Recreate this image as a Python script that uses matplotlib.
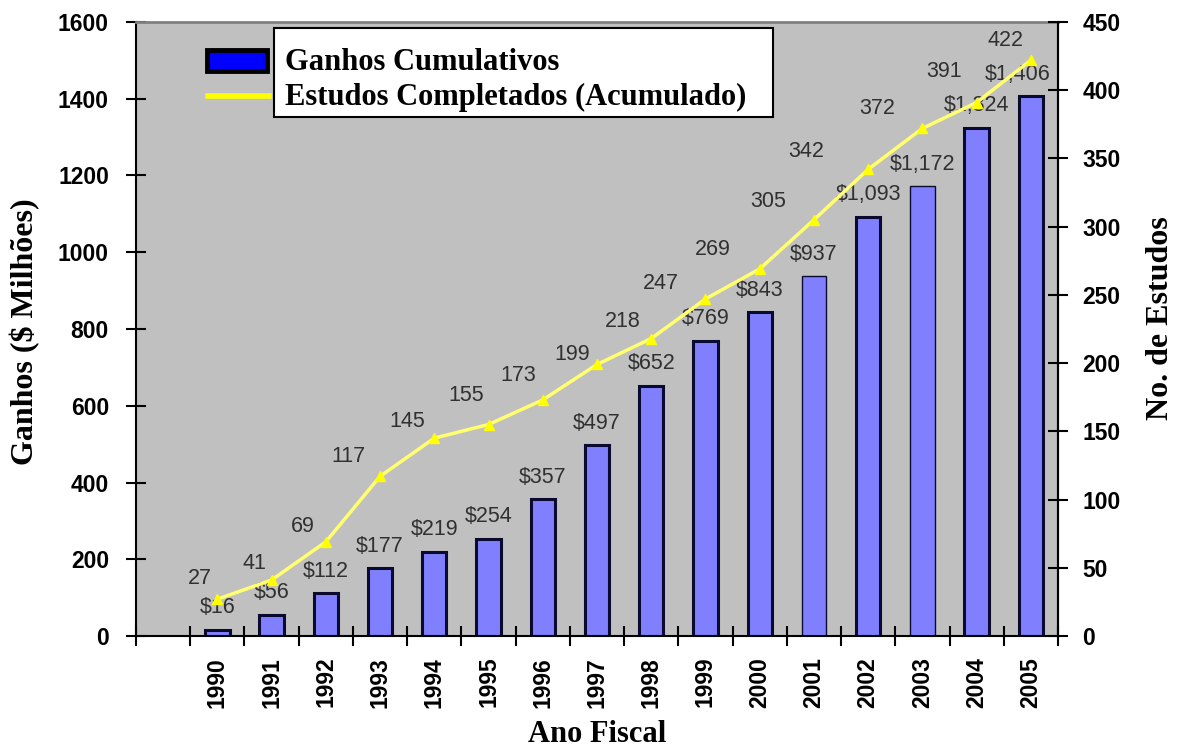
import numpy as np
import matplotlib
matplotlib.use("Agg")
import matplotlib.pyplot as plt
from matplotlib.patches import Rectangle
from matplotlib.lines import Line2D

plt.rcParams["font.family"] = ["Liberation Sans", "DejaVu Sans"]

# dados
anos = [1990, 1991, 1992, 1993, 1994, 1995, 1996, 1997,
        1998, 1999, 2000, 2001, 2002, 2003, 2004, 2005]
ganhos = [16, 56, 112, 177, 219, 254, 357, 497,
          652, 769, 843, 937, 1093, 1172, 1324, 1406]
estudos = [27, 41, 69, 117, 145, 155, 173, 199,
           218, 247, 269, 305, 342, 372, 391, 422]

# deslocamento dos rótulos da linha (pixels, x / y para cima)
desloc_estudos = [(-17, 21), (-17, 17), (-23, 15), (-32, 20), (-27, 17), (-22, 29),
                  (-25, 24), (-25, 10), (-28, 17), (-45, 15), (-47, 19), (-46, 18),
                  (-62, 18), (-45, 20), (-33, 31), (-25, 20)]

W, H = 1184, 753
fig = plt.figure(figsize=(W / 100, H / 100), dpi=100)
ax = fig.add_axes([136 / W, 117 / H, 922 / W, 614 / H])
ax.set_facecolor("#C0C0C0")

x = np.arange(1, len(anos) + 1)
pt = 0.72  # pixels -> pontos

# barras
lw_barras = [1.0 if a in (2001, 2003) else 2.2 for a in anos]
ax.bar(x, ganhos, width=0.45, color="#8080FF", edgecolor="#0a0a30",
       linewidth=lw_barras, zorder=2)
for xi, v in zip(x, ganhos):
    dx = -13 if v == ganhos[-1] else 0
    ax.annotate(f"${v:,}", (xi, v), xytext=(dx * pt, 22 * pt),
                textcoords="offset points", ha="center", va="center",
                fontsize=15.5, color="#303030", zorder=5)

ax.set_xlim(-0.5, len(anos) + 0.5)
ax.set_ylim(0, 1600)
ax.set_yticks(np.arange(0, 1601, 200))
ax.set_xticks(np.arange(-0.5, len(anos) + 1))
ax.set_xticklabels([])
ax.set_xticks(x, minor=True)
ax.set_xticklabels([str(a) for a in anos], minor=True, rotation=90,
                   fontsize=16.5, fontweight="bold")
ax.tick_params(axis="x", which="minor", length=0, pad=15)
ax.tick_params(axis="both", which="major", direction="inout", length=15,
               width=1.5, labelsize=16.5)
for lab in ax.get_yticklabels():
    lab.set_fontweight("bold")
ax.tick_params(axis="y", pad=12)

for s in ["left", "bottom", "right"]:
    ax.spines[s].set_linewidth(1.5)
    ax.spines[s].set_color("black")
ax.spines["top"].set_color("#808080")
ax.spines["top"].set_linewidth(2)

# eixo secundário: estudos
ax2 = ax.twinx()
ax2.plot(x, estudos, color="#FFFF70", linewidth=2.5, marker="^",
         markersize=7, markerfacecolor="#FFFF00", markeredgecolor="#FFFF00",
         zorder=4)
for xi, v, (dx, dy) in zip(x, estudos, desloc_estudos):
    ax2.annotate(str(v), (xi, v), xytext=(dx * pt, dy * pt),
                 textcoords="offset points", ha="center", va="center",
                 fontsize=15.5, color="#303030")
ax2.set_ylim(0, 450)
ax2.set_yticks(np.arange(0, 451, 50))
ax2.tick_params(axis="y", direction="inout", length=15, width=1.5,
                labelsize=16.5, pad=10)
for lab in ax2.get_yticklabels():
    lab.set_fontweight("bold")
for s in ["left", "bottom", "top"]:
    ax2.spines[s].set_visible(False)
ax2.spines["right"].set_linewidth(1.5)

# títulos dos eixos
serif = ["Liberation Serif", "DejaVu Serif"]
fig.text(25 / W, 1 - 332 / H, "Ganhos ($ Milhões)", rotation=90, ha="center",
         va="center", fontsize=23, fontweight="bold", family=serif)
fig.text(1160 / W, 1 - 318 / H, "No. de Estudos", rotation=90, ha="center",
         va="center", fontsize=23, fontweight="bold", family=serif)
fig.text(597 / W, 1 - 735 / H, "Ano Fiscal", ha="center", va="center",
         fontsize=22, fontweight="bold", family=serif)

# legenda
fig.add_artist(Rectangle((206.5 / W, 1 - 70.5 / H), 60 / W, 21 / H,
                         transform=fig.transFigure, facecolor="#0000FF",
                         edgecolor="black", linewidth=3.5))
fig.add_artist(Line2D([208 / W, 269 / W], [1 - 96 / H, 1 - 96 / H],
                      transform=fig.transFigure, color="#FFFF00", linewidth=4))
fig.add_artist(Rectangle((274 / W, 1 - 117 / H), 499 / W, 89 / H,
                         transform=fig.transFigure, facecolor="white",
                         edgecolor="black", linewidth=1.5))
fig.text(285 / W, 1 - 70 / H, "Ganhos Cumulativos", ha="left", va="baseline",
         fontsize=22, fontweight="bold", family=serif)
fig.text(285 / W, 1 - 105 / H, "Estudos Completados (Acumulado)", ha="left",
         va="baseline", fontsize=22, fontweight="bold", family=serif)

fig.savefig("out.png", dpi=100)
